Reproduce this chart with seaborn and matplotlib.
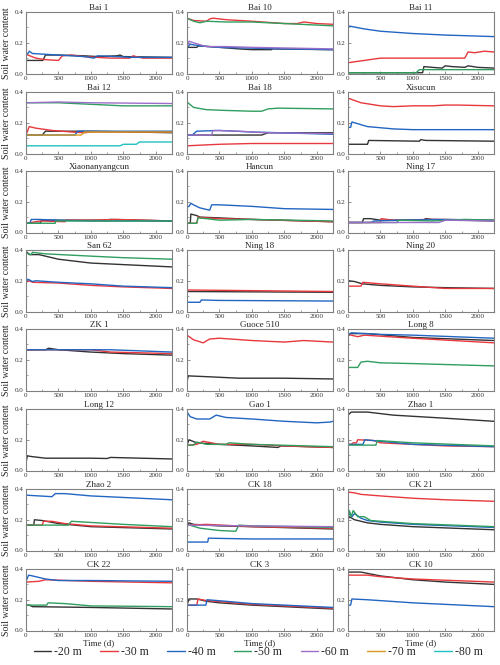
import numpy as np
import pandas as pd
import matplotlib
matplotlib.use("Agg")
import matplotlib.pyplot as plt
from matplotlib.lines import Line2D
from matplotlib.ticker import MultipleLocator, AutoMinorLocator
import seaborn as sns

DEPTHS = ["-20 m", "-30 m", "-40 m", "-50 m", "-60 m", "-70 m", "-80 m"]
COLORS = ["#333333", "#e8383d", "#2266c2", "#2f9e5f", "#9b6fc9", "#d69a1e", "#1fc0c0"]

# each panel: depth -> (times, soil water content)
bai_1 = {
    "-20 m": ([0, 260, 300, 500, 900, 1100, 1400, 1450, 1500, 2250],
              [0.085, 0.085, 0.12, 0.12, 0.115, 0.11, 0.115, 0.12, 0.11, 0.105]),
    "-30 m": ([0, 150, 300, 500, 560, 700, 900, 1100, 1300, 1600, 1650, 1800, 2250],
              [0.125, 0.1, 0.09, 0.085, 0.115, 0.12, 0.11, 0.105, 0.1, 0.1, 0.115, 0.1, 0.1]),
    "-40 m": ([0, 30, 50, 100, 300, 500, 900, 1050, 1100, 1400, 1600, 2250],
              [0.12, 0.13, 0.145, 0.13, 0.125, 0.12, 0.11, 0.1, 0.115, 0.11, 0.105, 0.105]),
}
bai_10 = {
    "-20 m": ([0, 150, 180, 500, 800, 1000, 1300, 1320, 2250],
              [0.17, 0.17, 0.18, 0.17, 0.16, 0.155, 0.155, 0.16, 0.155]),
    "-30 m": ([0, 100, 300, 350, 400, 600, 1000, 1500, 1700, 1800, 2000, 2250],
              [0.36, 0.345, 0.34, 0.355, 0.36, 0.35, 0.34, 0.325, 0.325, 0.335, 0.325, 0.32]),
    "-40 m": ([0, 50, 200, 500, 1000, 1500, 2250],
              [0.17, 0.19, 0.18, 0.17, 0.165, 0.16, 0.155]),
    "-50 m": ([0, 100, 200, 300, 600, 1000, 1500, 2250],
              [0.36, 0.34, 0.33, 0.34, 0.335, 0.335, 0.325, 0.31]),
    "-60 m": ([0, 30, 100, 300, 600, 1000, 2250],
              [0.17, 0.21, 0.2, 0.175, 0.175, 0.17, 0.16]),
}
bai_11 = {
    "-20 m": ([0, 1150, 1170, 1300, 1450, 1500, 1600, 1800, 1850, 2000, 2250],
              [0.005, 0.005, 0.045, 0.04, 0.035, 0.05, 0.045, 0.04, 0.05, 0.04, 0.035]),
    "-30 m": ([0, 250, 500, 1000, 1800, 1850, 1950, 2100, 2250],
              [0.07, 0.085, 0.1, 0.1, 0.1, 0.14, 0.135, 0.145, 0.14]),
    "-40 m": ([0, 250, 500, 1000, 1500, 2250],
              [0.31, 0.29, 0.275, 0.26, 0.25, 0.24]),
    "-50 m": ([0, 1050, 1100, 2250],
              [0.005, 0.005, 0.025, 0.025]),
}
bai_12 = {
    "-20 m": ([0, 250, 300, 1000, 2250], [0.12, 0.12, 0.145, 0.145, 0.135]),
    "-30 m": ([0, 50, 150, 400, 700, 900, 1000, 2250],
              [0.12, 0.175, 0.165, 0.15, 0.14, 0.135, 0.14, 0.14]),
    "-40 m": ([0, 750, 800, 2250], [0.12, 0.12, 0.145, 0.145]),
    "-50 m": ([0, 500, 1000, 1500, 2250], [0.33, 0.33, 0.32, 0.31, 0.31]),
    "-60 m": ([0, 500, 1000, 2250], [0.33, 0.335, 0.33, 0.325]),
    "-70 m": ([0, 850, 900, 2250], [0.12, 0.12, 0.14, 0.14]),
    "-80 m": ([0, 1450, 1500, 1700, 1750, 2250], [0.05, 0.05, 0.06, 0.06, 0.075, 0.075]),
}
bai_18 = {
    "-20 m": ([0, 1150, 1250, 2250], [0.12, 0.12, 0.135, 0.135]),
    "-30 m": ([0, 500, 1000, 2250], [0.05, 0.06, 0.065, 0.065]),
    "-40 m": ([0, 80, 150, 500, 1000, 2250], [0.12, 0.12, 0.145, 0.15, 0.14, 0.125]),
    "-50 m": ([0, 100, 300, 600, 1000, 1150, 1250, 1400, 2250],
              [0.335, 0.3, 0.285, 0.28, 0.275, 0.275, 0.29, 0.295, 0.29]),
    "-60 m": ([0, 380, 400, 800, 1200, 2250], [0.12, 0.12, 0.15, 0.145, 0.135, 0.13]),
}
xisucun = {
    "-20 m": ([0, 300, 320, 1100, 1120, 1200, 2250],
              [0.06, 0.06, 0.085, 0.08, 0.09, 0.085, 0.08]),
    "-30 m": ([0, 200, 500, 700, 1000, 1300, 1500, 1700, 2250],
              [0.36, 0.33, 0.31, 0.305, 0.31, 0.31, 0.315, 0.315, 0.31]),
    "-40 m": ([0, 40, 60, 100, 300, 700, 1000, 1500, 2250],
              [0.17, 0.17, 0.205, 0.2, 0.175, 0.16, 0.155, 0.155, 0.155]),
}
xiaonanyangcun = {
    "-20 m": ([0, 220, 240, 700, 1200, 1300, 2250],
              [0.06, 0.06, 0.08, 0.08, 0.08, 0.085, 0.075]),
    "-30 m": ([0, 220, 600, 620, 1000, 1400, 2250],
              [0.06, 0.075, 0.07, 0.08, 0.08, 0.085, 0.075]),
    "-40 m": ([0, 60, 80, 200, 500, 1000, 2250],
              [0.06, 0.06, 0.085, 0.085, 0.08, 0.075, 0.075]),
    "-50 m": ([0, 450, 460, 1000, 2250], [0.06, 0.06, 0.075, 0.075, 0.075]),
}
hancun = {
    "-20 m": ([0, 50, 60, 150, 200, 500, 1000, 2250],
              [0.06, 0.06, 0.12, 0.11, 0.1, 0.095, 0.085, 0.07]),
    "-30 m": ([0, 150, 170, 300, 500, 1000, 2250],
              [0.06, 0.06, 0.1, 0.095, 0.09, 0.085, 0.07]),
    "-40 m": ([0, 30, 60, 100, 200, 350, 380, 500, 1000, 1500, 2250],
              [0.165, 0.17, 0.19, 0.18, 0.16, 0.145, 0.18, 0.18, 0.17, 0.155, 0.15]),
    "-50 m": ([0, 150, 170, 300, 500, 1000, 2250],
              [0.06, 0.06, 0.095, 0.09, 0.08, 0.085, 0.075]),
}
ning_17 = {
    "-20 m": ([0, 220, 240, 350, 500, 1150, 1200, 1300, 2250],
              [0.065, 0.065, 0.09, 0.09, 0.08, 0.08, 0.09, 0.085, 0.075]),
    "-30 m": ([0, 500, 510, 700, 1250, 1400, 2250],
              [0.065, 0.065, 0.09, 0.08, 0.085, 0.085, 0.08]),
    "-40 m": ([0, 350, 400, 750, 1500, 2250],
              [0.065, 0.065, 0.075, 0.08, 0.085, 0.08]),
    "-50 m": ([0, 750, 780, 1300, 1800, 2250],
              [0.065, 0.065, 0.08, 0.075, 0.085, 0.08]),
    "-60 m": ([0, 1400, 1500, 2250], [0.065, 0.065, 0.08, 0.075]),
}
san_62 = {
    "-20 m": ([0, 30, 50, 200, 500, 1000, 1500, 2250],
              [0.39, 0.38, 0.37, 0.37, 0.34, 0.315, 0.305, 0.29]),
    "-30 m": ([0, 50, 100, 500, 1000, 1500, 2250],
              [0.19, 0.2, 0.19, 0.185, 0.17, 0.16, 0.15]),
    "-40 m": ([0, 30, 100, 150, 500, 1000, 1500, 2250],
              [0.19, 0.21, 0.195, 0.2, 0.19, 0.18, 0.165, 0.155]),
    "-50 m": ([0, 80, 100, 300, 1000, 1500, 2250],
              [0.38, 0.37, 0.385, 0.375, 0.36, 0.35, 0.34]),
}
ning_18 = {
    "-20 m": ([0, 2250], [0.13, 0.125]),
    "-30 m": ([0, 2250], [0.14, 0.13]),
    "-40 m": ([0, 200, 220, 500, 2250], [0.06, 0.06, 0.075, 0.072, 0.068]),
}
ning_20 = {
    "-20 m": ([0, 10, 100, 220, 500, 1000, 1500, 2250],
              [0.165, 0.2, 0.195, 0.18, 0.17, 0.16, 0.155, 0.15]),
    "-30 m": ([0, 200, 230, 500, 1000, 1500, 2250],
              [0.165, 0.165, 0.19, 0.18, 0.165, 0.15, 0.15]),
}
zk_1 = {
    "-20 m": ([0, 300, 350, 500, 1000, 1500, 2250],
              [0.265, 0.265, 0.275, 0.265, 0.25, 0.24, 0.23]),
    "-30 m": ([0, 500, 1000, 1300, 2250], [0.265, 0.265, 0.265, 0.25, 0.24]),
    "-40 m": ([0, 1300, 2250], [0.265, 0.265, 0.25]),
}
guoce_510 = {
    "-20 m": ([0, 20, 300, 800, 1500, 2250], [0.06, 0.095, 0.09, 0.08, 0.08, 0.075]),
    "-30 m": ([0, 100, 250, 350, 500, 1000, 1500, 1800, 2250],
              [0.36, 0.33, 0.31, 0.335, 0.34, 0.325, 0.315, 0.325, 0.315]),
}
long_8 = {
    "-20 m": ([0, 30, 300, 1000, 2250], [0.35, 0.37, 0.37, 0.345, 0.325]),
    "-30 m": ([0, 150, 250, 1000, 2250], [0.365, 0.35, 0.36, 0.34, 0.31]),
    "-40 m": ([0, 50, 500, 1000, 2250], [0.36, 0.375, 0.365, 0.36, 0.34]),
    "-50 m": ([0, 150, 200, 300, 500, 1000, 2250],
              [0.15, 0.15, 0.185, 0.19, 0.18, 0.175, 0.16]),
}
long_12 = {
    "-20 m": ([0, 20, 100, 300, 1000, 1250, 1300, 2250],
              [0.05, 0.095, 0.09, 0.08, 0.08, 0.078, 0.085, 0.075]),
}
gao_1 = {
    "-20 m": ([0, 30, 150, 500, 1000, 1400, 1450, 2250],
              [0.165, 0.2, 0.18, 0.17, 0.16, 0.15, 0.16, 0.15]),
    "-30 m": ([0, 150, 250, 500, 1000, 1500, 2250],
              [0.165, 0.17, 0.19, 0.17, 0.17, 0.16, 0.15]),
    "-40 m": ([0, 50, 150, 350, 450, 600, 1000, 1500, 2000, 2200, 2250],
              [0.38, 0.35, 0.335, 0.335, 0.36, 0.345, 0.335, 0.32, 0.31, 0.315, 0.32]),
    "-50 m": ([0, 100, 150, 300, 600, 650, 1000, 2250],
              [0.165, 0.165, 0.185, 0.17, 0.17, 0.18, 0.17, 0.155]),
}
zhao_1 = {
    "-20 m": ([0, 50, 300, 700, 1500, 2250], [0.36, 0.38, 0.38, 0.36, 0.34, 0.32]),
    "-30 m": ([0, 50, 80, 130, 150, 400, 500, 1000, 1500, 2250],
              [0.17, 0.17, 0.18, 0.18, 0.2, 0.195, 0.18, 0.17, 0.16, 0.155]),
    "-40 m": ([0, 230, 260, 500, 1000, 2250], [0.17, 0.17, 0.2, 0.19, 0.17, 0.155]),
    "-50 m": ([0, 430, 450, 1000, 2250], [0.165, 0.165, 0.195, 0.18, 0.16]),
}
zhao_2 = {
    "-20 m": ([0, 120, 130, 250, 500, 1000, 2250],
              [0.165, 0.165, 0.2, 0.195, 0.175, 0.155, 0.14]),
    "-30 m": ([0, 250, 270, 400, 600, 1000, 2250],
              [0.165, 0.165, 0.19, 0.19, 0.175, 0.16, 0.145]),
    "-40 m": ([0, 200, 400, 450, 600, 1000, 1500, 2250],
              [0.36, 0.355, 0.35, 0.37, 0.37, 0.355, 0.345, 0.33]),
    "-50 m": ([0, 650, 700, 900, 1500, 2250],
              [0.165, 0.165, 0.19, 0.185, 0.17, 0.155]),
}
ck_18 = {
    "-20 m": ([0, 30, 100, 500, 1000, 2250], [0.165, 0.18, 0.17, 0.16, 0.155, 0.14]),
    "-30 m": ([0, 300, 1000, 2250], [0.165, 0.17, 0.155, 0.145]),
    "-40 m": ([0, 320, 330, 1000, 2250], [0.055, 0.055, 0.08, 0.075, 0.075]),
    "-50 m": ([0, 200, 500, 750, 800, 1000, 2250],
              [0.17, 0.145, 0.13, 0.125, 0.165, 0.16, 0.15]),
    "-60 m": ([0, 1000, 2250], [0.165, 0.16, 0.155]),
}
ck_21 = {
    "-20 m": ([0, 20, 100, 300, 500, 1000, 2250],
              [0.2, 0.22, 0.2, 0.18, 0.17, 0.155, 0.135]),
    "-30 m": ([0, 100, 200, 500, 1000, 1500, 2250],
              [0.38, 0.375, 0.365, 0.355, 0.34, 0.33, 0.32]),
    "-40 m": ([0, 20, 60, 100, 200, 300, 500, 1000, 2250],
              [0.2, 0.25, 0.22, 0.24, 0.21, 0.195, 0.185, 0.17, 0.15]),
    "-50 m": ([0, 20, 50, 80, 150, 250, 350, 500, 1000, 2250],
              [0.2, 0.26, 0.22, 0.26, 0.22, 0.22, 0.195, 0.19, 0.175, 0.155]),
}
ck_22 = {
    "-20 m": ([0, 50, 100, 1000, 2250], [0.165, 0.165, 0.155, 0.15, 0.14]),
    "-30 m": ([0, 200, 300, 1000, 2250], [0.315, 0.32, 0.33, 0.32, 0.31]),
    "-40 m": ([0, 40, 100, 300, 500, 1000, 2250],
              [0.32, 0.36, 0.355, 0.335, 0.325, 0.325, 0.32]),
    "-50 m": ([0, 320, 340, 600, 1000, 2250], [0.165, 0.165, 0.18, 0.175, 0.16, 0.155]),
}
ck_3 = {
    "-20 m": ([0, 30, 150, 300, 500, 1000, 2250],
              [0.165, 0.205, 0.205, 0.19, 0.18, 0.165, 0.14]),
    "-30 m": ([0, 150, 170, 300, 1000, 2250], [0.165, 0.165, 0.205, 0.195, 0.17, 0.145]),
    "-40 m": ([0, 290, 310, 600, 1000, 1500, 2250],
              [0.165, 0.165, 0.2, 0.19, 0.175, 0.165, 0.15]),
}
ck_10 = {
    "-20 m": ([0, 200, 500, 1000, 1500, 2250], [0.38, 0.38, 0.355, 0.33, 0.315, 0.3]),
    "-30 m": ([0, 300, 500, 1000, 2250], [0.36, 0.36, 0.35, 0.335, 0.315]),
    "-40 m": ([0, 40, 60, 300, 1000, 2250], [0.165, 0.165, 0.205, 0.2, 0.18, 0.155]),
}

SITES = [
    ("Bai 1", bai_1), ("Bai 10", bai_10), ("Bai 11", bai_11),
    ("Bai 12", bai_12), ("Bai 18", bai_18), ("Xisucun", xisucun),
    ("Xiaonanyangcun", xiaonanyangcun), ("Hancun", hancun), ("Ning 17", ning_17),
    ("San 62", san_62), ("Ning 18", ning_18), ("Ning 20", ning_20),
    ("ZK 1", zk_1), ("Guoce 510", guoce_510), ("Long 8", long_8),
    ("Long 12", long_12), ("Gao 1", gao_1), ("Zhao 1", zhao_1),
    ("Zhao 2", zhao_2), ("CK 18", ck_18), ("CK 21", ck_21),
    ("CK 22", ck_22), ("CK 3", ck_3), ("CK 10", ck_10),
]

rows = []
for name, panel in SITES:
    for depth, (ts, vs) in panel.items():
        for t, v in zip(ts, vs):
            rows.append((name, depth, t, v))
df = pd.DataFrame(rows, columns=["site", "depth", "t", "swc"])

sns.set_theme(style="ticks")
plt.rcParams["font.family"] = ["Liberation Serif", "DejaVu Serif"]
plt.rcParams["axes.edgecolor"] = "#808080"
plt.rcParams["xtick.color"] = "#808080"
plt.rcParams["ytick.color"] = "#808080"
plt.rcParams["xtick.labelcolor"] = "#333333"
plt.rcParams["ytick.labelcolor"] = "#333333"

palette = dict(zip(DEPTHS, COLORS))
W, H = 500, 665
fig = plt.figure(figsize=(W / 100, H / 100), dpi=100)

col_left = [26, 187, 348]
row_top = [12, 92, 171, 250, 329, 409, 489, 569]
aw, ah = 146, 61.5

for i, (name, panel) in enumerate(SITES):
    r, c = divmod(i, 3)
    ax = fig.add_axes([col_left[c] / W, 1 - (row_top[r] + ah) / H, aw / W, ah / H])
    sub = df[df.site == name]
    order = [d for d in DEPTHS if d in panel]
    sns.lineplot(data=sub, x="t", y="swc", hue="depth", hue_order=order,
                 palette=palette, estimator=None, sort=False, legend=False,
                 linewidth=1.0, ax=ax)
    ax.set_xlim(0, 2250)
    ax.set_ylim(0, 0.4)
    ax.xaxis.set_major_locator(MultipleLocator(500))
    ax.xaxis.set_minor_locator(AutoMinorLocator(2))
    ax.yaxis.set_major_locator(MultipleLocator(0.2))
    ax.yaxis.set_minor_locator(AutoMinorLocator(2))
    ax.tick_params(which="both", direction="in", labelsize=5, pad=1.5)
    ax.tick_params(which="major", length=2.5, width=0.6)
    ax.tick_params(which="minor", length=1.5, width=0.5)
    ax.yaxis.set_major_formatter(matplotlib.ticker.FormatStrFormatter("%.1f"))
    for s in ax.spines.values():
        s.set_linewidth(0.8)
    ax.set_title(name, fontsize=6.5, pad=1.5)
    ax.set_xlabel("Time (d)" if r == 7 else "", fontsize=6.5, labelpad=1)
    ax.set_ylabel("Soil water content" if c == 0 else "", fontsize=7, labelpad=3)

handles = [Line2D([0], [0], color=col, lw=1.0) for col in COLORS]
fig.legend(handles, DEPTHS, loc="center", bbox_to_anchor=(0.516, 1 - 652 / H),
           ncol=7, frameon=False, fontsize=8.5, handlelength=1.5,
           handletextpad=0.25, columnspacing=1.55)

fig.savefig("out.png", dpi=100)
